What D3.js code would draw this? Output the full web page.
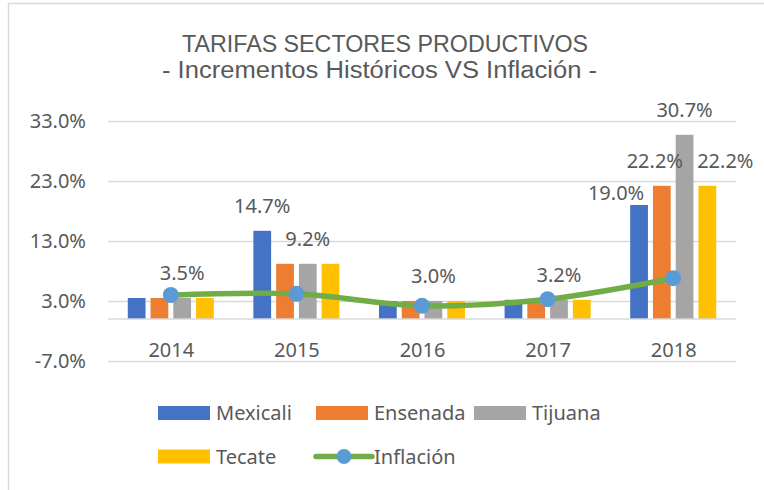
<!DOCTYPE html>
<html>
<head>
<meta charset="utf-8">
<script src="https://cdn.jsdelivr.net/npm/d3@7"></script>
<style>
  body { margin: 0; background: #fff; }
  svg { display: block; }
</style>
</head>
<body>
<svg id="chart" width="764" height="490"></svg>
<script>
const years = ["2014", "2015", "2016", "2017", "2018"]
const seriesNames = ["Mexicali", "Ensenada", "Tijuana", "Tecate"]
const mexicali = [3.5, 14.7, 3.0, 3.2, 19.0]
const ensenada = [3.5, 9.2, 3.0, 3.2, 22.2]
const tijuana = [3.5, 9.2, 3.0, 3.2, 30.7]
const tecate = [3.5, 9.2, 3.0, 3.2, 22.2]
const inflacion = [4.0, 4.2, 2.2, 3.3, 6.8]
const yTicks = [-7, 3, 13, 23, 33]

// which bars carry a value label (offsets are manual nudges, as in the original)
const dataLabels = [
  { series: "Tijuana", year: "2014" },
  { series: "Mexicali", year: "2015" },
  { series: "Tijuana", year: "2015" },
  { series: "Tijuana", year: "2016" },
  { series: "Tijuana", year: "2017" },
  { series: "Mexicali", year: "2018", dx: -23, dy: 13 },
  { series: "Ensenada", year: "2018", dx: -7 },
  { series: "Tijuana", year: "2018" },
  { series: "Tecate", year: "2018", dx: 18 }
]

const colors = {
  Mexicali: "#4472C4",
  Ensenada: "#ED7D31",
  Tijuana: "#A5A5A5",
  Tecate: "#FFC000"
}
const lineColor = "#70AD47",
  markerColor = "#5B9BD5",
  textColor = "#595959",
  gridColor = "#d9d9d9",
  font = "'Noto Sans', 'Open Sans', sans-serif"

const values = { Mexicali: mexicali, Ensenada: ensenada, Tijuana: tijuana, Tecate: tecate }
const pct = (v) => v.toFixed(1) + "%"

const svg = d3.select("#chart")
const left = 108,
  right = 736

// chart frame
svg.append("rect")
  .attr("x", 8.5).attr("y", 3.5)
  .attr("width", 800).attr("height", 600)
  .attr("fill", "none")
  .attr("stroke", gridColor)
  .attr("stroke-width", 1.5)

// Title
const title = svg.append("g")
  .style("font-family", "'Liberation Sans', Arial, sans-serif")
  .style("font-size", "23px")
  .attr("fill", textColor)
title.append("text")
  .attr("x", 182).attr("y", 52)
  .attr("textLength", 406).attr("lengthAdjust", "spacingAndGlyphs")
  .text("TARIFAS SECTORES PRODUCTIVOS")
title.append("text")
  .attr("x", 162).attr("y", 78)
  .attr("textLength", 435).attr("lengthAdjust", "spacingAndGlyphs")
  .text("- Incrementos Históricos VS Inflación -")

// Scales
const y = d3.scaleLinear().domain([-7, 33]).range([361, 121])
const x0 = d3.scaleBand().domain(years).range([left, right])
  .paddingInner(0.315).paddingOuter(0.1575)
const x1 = d3.scaleBand().domain(seriesNames).range([0, x0.bandwidth()])
  .paddingInner(0.22)
const xc = d3.scalePoint().domain(years).range([left, right]).padding(0.5)

// Gridlines + y labels
const yAxis = svg.append("g")
  .attr("transform", `translate(${left},0)`)
  .call(d3.axisLeft(y).tickValues(yTicks).tickSize(-(right - left)).tickPadding(22)
    .tickFormat(pct))
yAxis.select(".domain").remove()
yAxis.selectAll("line").attr("stroke", gridColor).attr("stroke-width", 1.3)
yAxis.selectAll("text")
  .attr("fill", textColor)
  .style("font-family", font)
  .style("font-size", "20px")

// Bars
const groups = svg.append("g").selectAll("g")
  .data(years)
  .join("g")
  .attr("transform", (d) => `translate(${x0(d)},0)`)

groups.selectAll("rect")
  .data((yr, i) => seriesNames.map((s) => ({ series: s, value: values[s][i] })))
  .join("rect")
  .attr("x", (d) => x1(d.series))
  .attr("width", x1.bandwidth())
  .attr("y", (d) => y(Math.max(0, d.value)))
  .attr("height", (d) => Math.abs(y(d.value) - y(0)))
  .attr("fill", (d) => colors[d.series])

// x axis line at zero + category labels
const xAxis = svg.append("g")
  .attr("transform", `translate(0,${y(0)})`)
  .call(d3.axisBottom(xc).tickSize(0).tickPadding(0))
xAxis.select(".domain").attr("stroke", gridColor).attr("stroke-width", 1.5)
  .attr("d", `M${left},0H${right}`)
xAxis.selectAll("text")
  .attr("y", 38)
  .attr("dy", 0)
  .attr("fill", textColor)
  .style("font-family", font)
  .style("font-size", "20px")

// Inflation line
const line = d3.line()
  .x((d, i) => xc(years[i]))
  .y((d) => y(d))
  .curve(d3.curveCatmullRom.alpha(0))
svg.append("path")
  .datum(inflacion)
  .attr("d", line)
  .attr("fill", "none")
  .attr("stroke", lineColor)
  .attr("stroke-width", 5.5)
  .attr("stroke-linecap", "round")
svg.append("g").selectAll("circle")
  .data(inflacion)
  .join("circle")
  .attr("cx", (d, i) => xc(years[i]))
  .attr("cy", (d) => y(d))
  .attr("r", 8)
  .attr("fill", markerColor)

// Data labels
svg.append("g")
  .selectAll("text")
  .data(dataLabels)
  .join("text")
  .attr("x", (d) => x0(d.year) + x1(d.series) + x1.bandwidth() / 2 + (d.dx || 0))
  .attr("y", (d) => y(values[d.series][years.indexOf(d.year)]) - 18 + (d.dy || 0))
  .attr("text-anchor", "middle")
  .attr("fill", textColor)
  .style("font-family", font)
  .style("font-size", "20px")
  .text((d) => pct(values[d.series][years.indexOf(d.year)]))

// Legend
const legendItems = [
  { name: "Mexicali", type: "bar", col: 0, row: 0 },
  { name: "Ensenada", type: "bar", col: 1, row: 0 },
  { name: "Tijuana", type: "bar", col: 2, row: 0 },
  { name: "Tecate", type: "bar", col: 0, row: 1 },
  { name: "Inflación", type: "line", col: 1, row: 1 }
]
const colX = [158, 316, 474],
  rowY = [413, 456.5]

const legend = svg.append("g")
  .selectAll("g")
  .data(legendItems)
  .join("g")
  .attr("transform", (d) => `translate(${colX[d.col]},${rowY[d.row]})`)

legend.filter((d) => d.type === "bar")
  .append("rect")
  .attr("x", 0).attr("y", -7)
  .attr("width", 52).attr("height", 14)
  .attr("fill", (d) => colors[d.name])

const lg = legend.filter((d) => d.type === "line")
lg.append("line")
  .attr("x1", 0).attr("x2", 56)
  .attr("stroke", lineColor).attr("stroke-width", 5.5)
  .attr("stroke-linecap", "round")
lg.append("circle")
  .attr("cx", 28).attr("r", 7.5)
  .attr("fill", markerColor)

legend.append("text")
  .attr("x", 58)
  .attr("y", 7)
  .attr("fill", textColor)
  .style("font-family", font)
  .style("font-size", "20px")
  .text((d) => d.name)
</script>
</body>
</html>
